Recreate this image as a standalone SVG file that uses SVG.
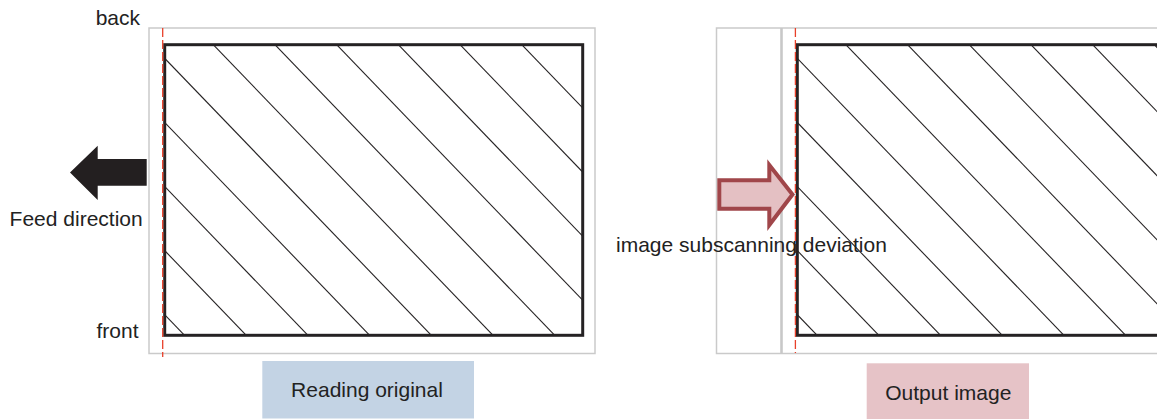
<svg xmlns="http://www.w3.org/2000/svg" xmlns:xlink="http://www.w3.org/1999/xlink" width="1157" height="419" viewBox="0 0 1157 419">
<style>
  .lbl { font-family: "Liberation Sans", Arial, sans-serif; font-size: 21px; fill: #222; }
  .frame { fill: none; stroke: #cacaca; stroke-width: 1.5; }
  .sheet { fill: none; stroke: #252223; stroke-width: 3; }
  .hatch line { stroke: #252223; stroke-width: 1.1; }
  .cut { stroke: #e8402a; stroke-width: 1.3; stroke-dasharray: 9 3; fill: none; }
</style>
<defs>
  <clipPath id="sheetClip"><rect x="164.7" y="44.7" width="418" height="290.6"/></clipPath>
  <g id="hatch" class="hatch" clip-path="url(#sheetClip)">
    <line x1="-445.2" y1="-318.9" x2="354.8" y2="512.2"/>
    <line x1="-383.5" y1="-318.9" x2="416.5" y2="512.2"/>
    <line x1="-321.8" y1="-318.9" x2="478.2" y2="512.2"/>
    <line x1="-260.1" y1="-318.9" x2="539.9" y2="512.2"/>
    <line x1="-198.4" y1="-318.9" x2="601.6" y2="512.2"/>
    <line x1="-136.7" y1="-318.9" x2="663.3" y2="512.2"/>
    <line x1="-75.0" y1="-318.9" x2="725.0" y2="512.2"/>
    <line x1="-13.3" y1="-318.9" x2="786.7" y2="512.2"/>
    <line x1="48.4" y1="-318.9" x2="848.4" y2="512.2"/>
    <line x1="110.1" y1="-318.9" x2="910.1" y2="512.2"/>
    <line x1="171.8" y1="-318.9" x2="971.8" y2="512.2"/>
  </g>
</defs>

<g id="reading-original-panel">
  <rect class="frame" x="149" y="28" width="446" height="325.5"/>
  <use xlink:href="#hatch" href="#hatch"/>
  <rect class="sheet" x="164.7" y="44.7" width="418" height="290.6"/>
  <line class="cut" x1="162.7" y1="28" x2="162.7" y2="357"/>
</g>

<g id="output-image-panel">
  <rect class="frame" x="716.5" y="28" width="500" height="325.5"/>
  <line x1="781.5" y1="28" x2="781.5" y2="353.5" stroke="#c8c8c8" stroke-width="2.6"/>
  <use xlink:href="#hatch" href="#hatch" transform="translate(632.6,0)"/>
  <rect class="sheet" x="797.3" y="44.7" width="418" height="290.6"/>
  <line class="cut" x1="795.4" y1="28" x2="795.4" y2="353"/>
</g>

<g id="label-back"><text class="lbl" x="140" y="25" text-anchor="end">back</text></g>
<g id="label-front"><text class="lbl" x="138.5" y="338.3" text-anchor="end">front</text></g>
<g id="label-feed"><text class="lbl" x="142.7" y="226" text-anchor="end">Feed direction</text></g>
<g id="label-deviation"><text class="lbl" x="616" y="252.3">image subscanning deviation</text></g>

<g id="connectors">
  <path id="feed-arrow" d="M70,172.5 L97.7,145.7 L97.7,159 L146.7,159 L146.7,185.7 L97.7,185.7 L97.7,200 Z" fill="#231f20"/>
  <path id="deviation-arrow" d="M719.3,180.3 L769.3,180.3 L769.3,165 L792.5,194.5 L769.3,225 L769.3,208.7 L719.3,208.7 Z" fill="#e4c0c3" stroke="#a0464a" stroke-width="4" stroke-linejoin="miter"/>
</g>

<g id="caption-reading">
  <rect x="262.3" y="361" width="211.7" height="57.5" fill="#c3d3e4"/>
  <text class="lbl" x="367" y="397" text-anchor="middle">Reading original</text>
</g>
<g id="caption-output">
  <rect x="866.7" y="363.3" width="162.3" height="56" fill="#e6c3c7"/>
  <text class="lbl" x="948.3" y="399.5" text-anchor="middle">Output image</text>
</g>
</svg>
